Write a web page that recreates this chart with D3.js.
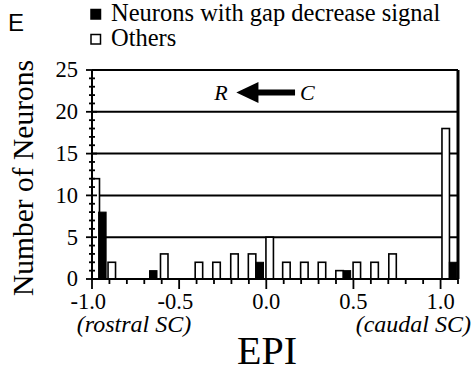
<!DOCTYPE html>
<html>
<head>
<meta charset="utf-8">
<script src="https://cdn.jsdelivr.net/npm/d3@7"></script>
<style>
  body { margin: 0; background: #fff; }
</style>
</head>
<body>
<svg id="chart" width="473" height="371"></svg>
<script>
// bar left edges (EPI) and counts
var othersEpi = [-1.0, -0.908, -0.607, -0.408, -0.307, -0.204, -0.103, -0.002, 0.094, 0.197, 0.298, 0.399, 0.498, 0.600, 0.703, 1.008];
var othersN   = [12, 2, 3, 2, 2, 3, 3, 5, 2, 2, 2, 1, 2, 2, 3, 18];
var gapEpi = [-0.962, -0.670, -0.059, 0.441, 1.050];
var gapN   = [8, 1, 2, 1, 2];
var xTicks = [-1.0, -0.5, 0.0, 0.5, 1.0];
var yTicks = [0, 5, 10, 15, 20, 25];

var serif = "'Liberation Serif', 'Times New Roman', Times, serif";

var svg = d3.select("#chart");
var margin = {top: 70, right: 15, bottom: 92, left: 92};
var width = 473 - margin.left - margin.right;
var height = 371 - margin.top - margin.bottom;

var x = d3.scaleLinear().domain([-1.0, 1.1]).range([0, width]);
var y = d3.scaleLinear().domain([0, 25]).range([height, 0]);
var bw = x(-1.0 + 0.043) - x(-1.0);

var g = svg.append("g").attr("transform", "translate(" + margin.left + "," + margin.top + ")");

// gridlines
g.selectAll(".grid").data(yTicks.filter(function(d) { return d > 0; }))
  .enter().append("line")
  .attr("x1", 0).attr("x2", width)
  .attr("y1", function(d) { return y(d); }).attr("y2", function(d) { return y(d); })
  .attr("stroke", "#000").attr("stroke-width", 2);

// bars
g.selectAll(".others").data(othersEpi)
  .enter().append("rect")
  .attr("x", function(d) { return x(d); })
  .attr("y", function(d, i) { return y(othersN[i]); })
  .attr("width", bw)
  .attr("height", function(d, i) { return y(0) - y(othersN[i]); })
  .attr("fill", "#fff").attr("stroke", "#000").attr("stroke-width", 1.6);

g.selectAll(".gap").data(gapEpi)
  .enter().append("rect")
  .attr("x", function(d) { return x(d); })
  .attr("y", function(d, i) { return y(gapN[i]); })
  .attr("width", bw)
  .attr("height", function(d, i) { return y(0) - y(gapN[i]); })
  .attr("fill", "#000").attr("stroke", "#000").attr("stroke-width", 1);

// right border
g.append("line").attr("x1", width).attr("x2", width).attr("y1", 0).attr("y2", height)
  .attr("stroke", "#000").attr("stroke-width", 3);

// x axis
var tickFs = 22.5;
var xAxis = g.append("g").attr("transform", "translate(0," + height + ")");
xAxis.append("line").attr("x1", 0).attr("x2", width).attr("stroke", "#000").attr("stroke-width", 2);
xAxis.selectAll(".minor").data(d3.range(-10, 12).map(function(d) { return d / 10; }))
  .enter().append("line")
  .attr("x1", function(d) { return x(d); }).attr("x2", function(d) { return x(d); })
  .attr("y1", 0).attr("y2", function(d) { return Math.abs(d * 2 - Math.round(d * 2)) < 1e-6 ? 10 : 5; })
  .attr("stroke", "#000").attr("stroke-width", 1.8);
xAxis.selectAll(".lab").data(xTicks)
  .enter().append("text")
  .attr("x", function(d) { return x(d) - (d < 0 ? tickFs * 0.333 / 2 : 0); })
  .attr("y", 30)
  .attr("text-anchor", "middle").attr("font-family", serif).attr("font-size", tickFs)
  .text(function(d) { return (d < 0 ? "-" : "") + Math.abs(d).toFixed(1); });

// y axis
var yAxis = g.append("g");
yAxis.append("line").attr("y1", 0).attr("y2", height).attr("stroke", "#000").attr("stroke-width", 2);
yAxis.selectAll(".minor").data(d3.range(0, 26))
  .enter().append("line")
  .attr("y1", function(d) { return y(d); }).attr("y2", function(d) { return y(d); })
  .attr("x1", function(d) { return d % 5 == 0 ? -6 : -3; })
  .attr("x2", function(d) { return d % 5 == 0 ? 5 : 3; })
  .attr("stroke", "#000").attr("stroke-width", 1.8);
yAxis.selectAll(".lab").data(yTicks)
  .enter().append("text")
  .attr("x", -14).attr("y", function(d) { return y(d); }).attr("dy", "0.33em")
  .attr("text-anchor", "end").attr("font-family", serif).attr("font-size", tickFs)
  .text(function(d) { return d; });

// R <- C arrow
var ay = y(22.3);
g.append("text").attr("x", x(-0.26)).attr("y", ay).attr("dy", "0.35em")
  .attr("text-anchor", "middle").attr("font-family", serif).attr("font-size", 22).attr("font-style", "italic").text("R");
g.append("path")
  .attr("d", "M" + x(-0.172) + "," + ay + "L" + x(-0.045) + "," + (ay - 10.5) + "L" + x(-0.045) + "," + (ay - 3) +
    "L" + x(0.165) + "," + (ay - 3) + "L" + x(0.165) + "," + (ay + 3) + "L" + x(-0.045) + "," + (ay + 3) +
    "L" + x(-0.045) + "," + (ay + 10.5) + "Z")
  .attr("fill", "#000");
g.append("text").attr("x", x(0.235)).attr("y", ay).attr("dy", "0.35em")
  .attr("text-anchor", "middle").attr("font-family", serif).attr("font-size", 22).attr("font-style", "italic").text("C");

// axis titles
svg.append("text").attr("transform", "translate(33,178) rotate(-90)")
  .attr("text-anchor", "middle").attr("font-family", serif).attr("font-size", 29.5).text("Number of Neurons");
svg.append("text").attr("x", 267).attr("y", 364)
  .attr("text-anchor", "middle").attr("font-family", serif).attr("font-size", 40).text("EPI");
svg.append("text").attr("x", 134).attr("y", 332)
  .attr("text-anchor", "middle").attr("font-family", serif).attr("font-size", 24).attr("font-style", "italic").text("(rostral SC)");
svg.append("text").attr("x", 471).attr("y", 332)
  .attr("text-anchor", "end").attr("font-family", serif).attr("font-size", 24).attr("font-style", "italic").text("(caudal SC)");

// panel letter
svg.append("text").attr("x", 8).attr("y", 31)
  .attr("font-family", "'Liberation Sans', Arial, sans-serif").attr("font-size", 24).text("E");

// legend
var legend = [["Neurons with gap decrease signal", "#000"], ["Others", "#fff"]];
var lg = svg.selectAll(".leg").data(legend).enter().append("g")
  .attr("transform", function(d, i) { return "translate(91," + (21 + i * 25) + ")"; });
lg.append("rect").attr("x", 0).attr("y", -11.5).attr("width", 9.5).attr("height", 9.5)
  .attr("fill", function(d) { return d[1]; }).attr("stroke", "#000").attr("stroke-width", 1.5);
lg.append("text").attr("x", 20).attr("y", 0)
  .attr("font-family", serif).attr("font-size", 24.5).text(function(d) { return d[0]; });
</script>
</body>
</html>
